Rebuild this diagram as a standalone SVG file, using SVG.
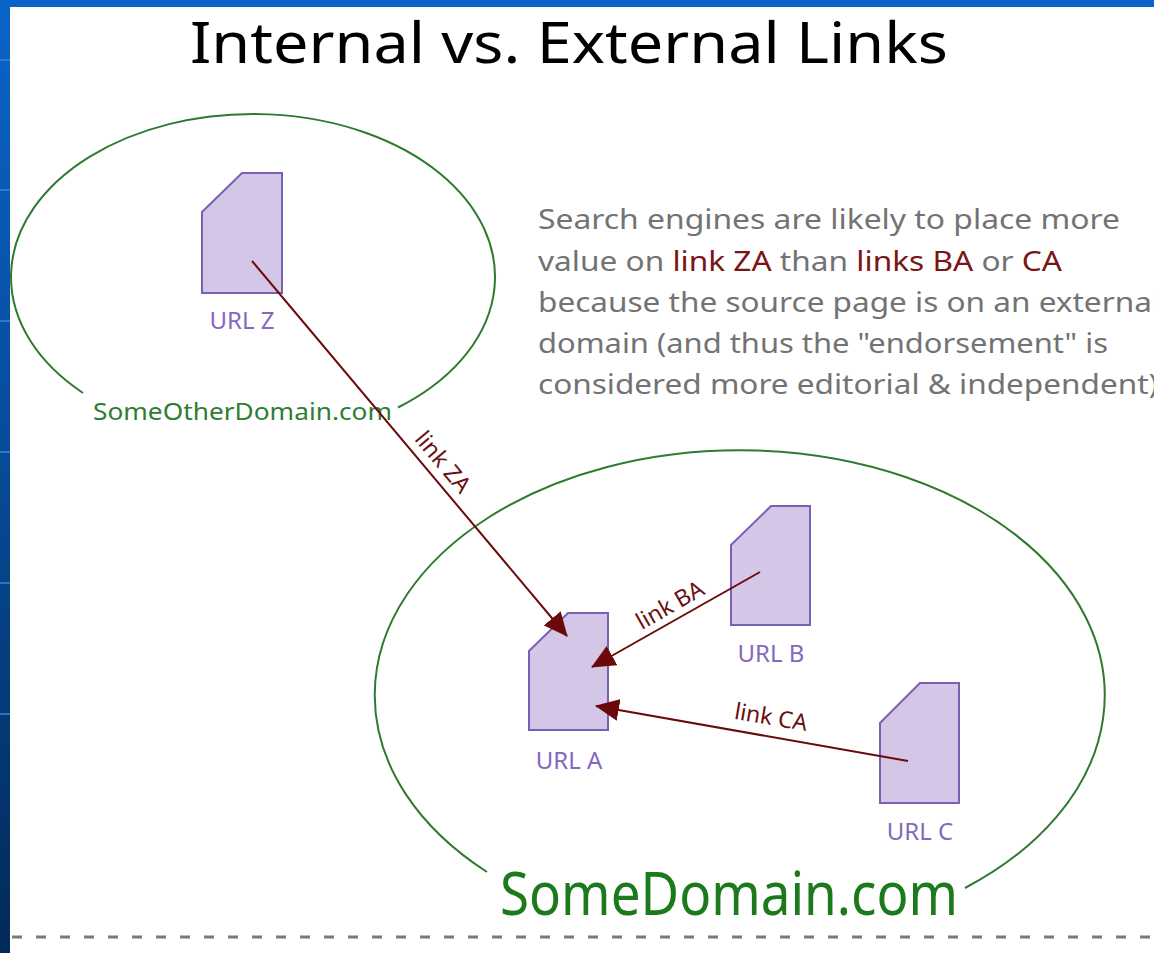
<svg xmlns="http://www.w3.org/2000/svg" width="1154" height="953" viewBox="0 0 1154 953">
<defs>
<linearGradient id="blue" x1="0" y1="0" x2="0" y2="1">
<stop offset="0" stop-color="#0a64c8"/>
<stop offset="0.5" stop-color="#074a96"/>
<stop offset="1" stop-color="#022a58"/>
</linearGradient>
<marker id="arr" viewBox="0 0 24 22" refX="23" refY="11" markerWidth="24" markerHeight="22" orient="auto" markerUnits="userSpaceOnUse">
<path d="M0,0 L24,11 L0,22 Z" fill="#6b0a0a"/>
</marker>
<style>
.dom{fill:none;stroke:#2f7a2f;stroke-width:2}
.doc{fill:#d4c6e6;stroke:#7a60b3;stroke-width:2}
.url{font-family:"Noto Sans","DejaVu Sans",sans-serif;font-size:24px;fill:#8468bf;text-anchor:middle}
.lnk{stroke:#6b0a0a;stroke-width:2;fill:none;marker-end:url(#arr)}
.lbl{font-family:"Noto Sans","DejaVu Sans",sans-serif;font-size:23px;fill:#6b0f0f;text-anchor:middle}
.para{font-family:"Noto Sans","DejaVu Sans",sans-serif;font-size:27px;fill:#737373}
.red{fill:#7b1515}
</style>
</defs>
<rect x="0" y="0" width="1154" height="953" fill="#ffffff"/>
<rect x="0" y="0" width="10" height="953" fill="url(#blue)"/>
<rect x="0" y="0" width="1154" height="7" fill="#0a63c6"/>
<g fill="#3f8ad8" opacity="0.7">
<rect x="0" y="59" width="10" height="2"/>
<rect x="0" y="189" width="10" height="2"/>
<rect x="0" y="320" width="10" height="2"/>
<rect x="0" y="451" width="10" height="2"/>
<rect x="0" y="582" width="10" height="2"/>
<rect x="0" y="713" width="10" height="2"/>
</g>
<text x="190" y="63" font-family="Noto Sans, Open Sans, sans-serif" font-size="56" fill="#000000" textLength="758" lengthAdjust="spacingAndGlyphs">Internal vs. External Links</text>
<g id="domain-other">
<path class="dom" d="M83,393 A242,163 0 1 1 398,407.5"/>
<text x="93" y="420" font-family="Noto Sans, DejaVu Sans, sans-serif" font-size="24" fill="#2e7d32" textLength="299" lengthAdjust="spacingAndGlyphs">SomeOtherDomain.com</text>
</g>
<g id="domain-some">
<path class="dom" d="M487,872 A365,245 0 1 1 965,888"/>
<text x="500" y="915" font-family="Noto Sans, DejaVu Sans, sans-serif" font-size="60" fill="#1c7a1c" textLength="458" lengthAdjust="spacingAndGlyphs">SomeDomain.com</text>
</g>
<g id="description">
<text class="para" x="538" y="229" textLength="582" lengthAdjust="spacingAndGlyphs">Search engines are likely to place more</text>
<text class="para" x="538" y="271" textLength="524" lengthAdjust="spacingAndGlyphs">value on <tspan class="red">link ZA</tspan> than <tspan class="red">links BA</tspan> or <tspan class="red">CA</tspan></text>
<text class="para" x="538" y="312" textLength="622" lengthAdjust="spacingAndGlyphs">because the source page is on an external</text>
<text class="para" x="538" y="353" textLength="570" lengthAdjust="spacingAndGlyphs">domain (and thus the "endorsement" is</text>
<text class="para" x="538" y="394" textLength="620" lengthAdjust="spacingAndGlyphs">considered more editorial &amp; independent)</text>
</g>
<g id="url-z">
<path class="doc" d="M202,212 L242,173 L282,173 L282,293 L202,293 Z"/>
<text class="url" x="242" y="329">URL Z</text>
</g>
<g id="url-a">
<path class="doc" d="M529,651 L568,613 L608,613 L608,730 L529,730 Z"/>
<text class="url" x="569" y="769">URL A</text>
</g>
<g id="url-b">
<path class="doc" d="M731,545 L771,506 L810,506 L810,625 L731,625 Z"/>
<text class="url" x="771" y="662">URL B</text>
</g>
<g id="url-c">
<path class="doc" d="M880,723 L920,683 L959,683 L959,803 L880,803 Z"/>
<text class="url" x="920" y="840">URL C</text>
</g>
<g id="connectors">
<line class="lnk" x1="252" y1="261" x2="567" y2="636"/>
<line class="lnk" x1="760" y1="572" x2="592" y2="667"/>
<line class="lnk" x1="908" y1="761" x2="596" y2="706"/>
<text class="lbl" transform="translate(443,462) rotate(50)" x="0" y="8">link ZA</text>
<text class="lbl" transform="translate(670,605) rotate(-29.7)" x="0" y="8">link BA</text>
<text class="lbl" transform="translate(771,717) rotate(9.6)" x="0" y="8">link CA</text>
</g>
<line x1="12" y1="937" x2="1154" y2="937" stroke="#7a7a7a" stroke-width="3" stroke-dasharray="10 14"/>
</svg>
